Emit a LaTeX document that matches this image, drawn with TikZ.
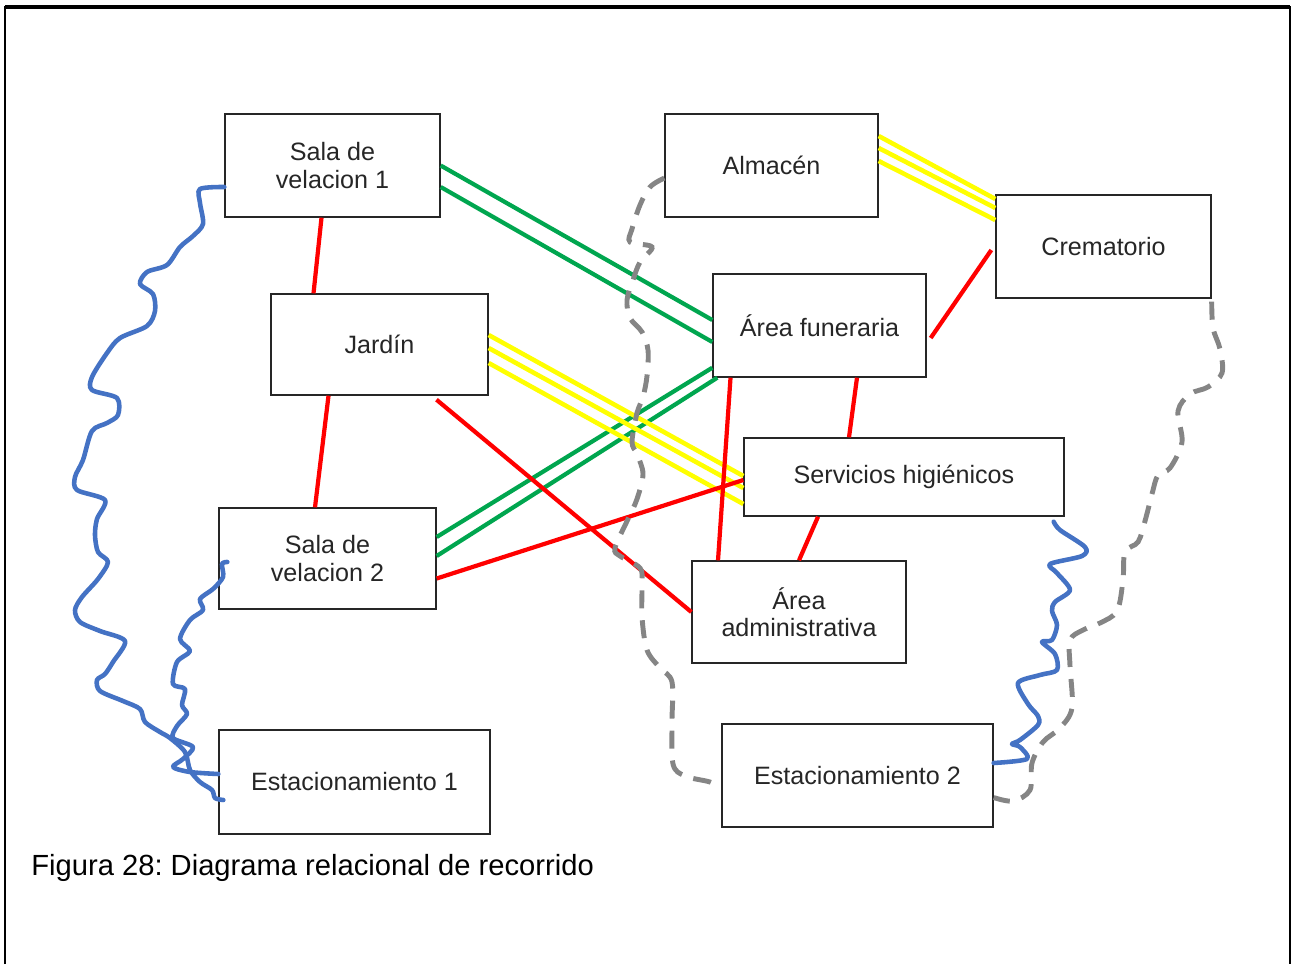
\documentclass[tikz,border=0pt]{standalone}
\usepackage{fontspec}
\setmainfont{Liberation Sans}
\frenchspacing

\definecolor{relred}{HTML}{FF0000}
\definecolor{relgreen}{HTML}{00A64F}
\definecolor{relyellow}{HTML}{FFFF00}
\definecolor{relblue}{HTML}{4472C4}
\definecolor{relgray}{HTML}{858585}

\tikzset{
    area/.style={draw=black!85, line width=0.8pt, rectangle, align=center, minimum height=2.06cm, text=black!85, font=\fontsize{14.3}{15.5}\selectfont},
    redlink/.style={draw=relred, line width=2.4pt},
    greenlink/.style={draw=relgreen, line width=2.4pt},
    yellowlink/.style={draw=relyellow, line width=2.6pt},
    bluewalk/.style={draw=relblue, line width=2.6pt, line cap=round, line join=round},
    graywalk/.style={draw=relgray, line width=2.8pt, dash pattern=on 0.36cm off 0.24cm},
}

\begin{document}
\begin{tikzpicture}[x=0.02cm, y=-0.02cm]
    \useasboundingbox (0, 0) rectangle (1295, 964);
    \draw [line width=1pt] (5, 964) -- (5, 7) -- (1290, 7) -- (1290, 964);
    \draw [line width=2pt] (5, 7) -- (1290, 7);

    \node (sala1) [area, minimum width=4.3cm] at (332.5, 165.5) {Sala de\\velacion 1};
    \node (almacen) [area, minimum width=4.26cm] at (771.5, 165.5) {Almacén};
    \node (crema) [area, minimum width=4.3cm] at (1103.5, 246.5) {Crematorio};
    \node (jardin) [area, minimum width=4.34cm, minimum height=2.02cm] at (379.5, 344.5) {Jardín};
    \node (funer) [area, minimum width=4.26cm] at (819.5, 325.5) {Área funeraria};
    \node (serv) [area, minimum width=6.4cm, minimum height=1.56cm] at (904, 477) {Servicios higiénicos};
    \node (sala2) [area, minimum width=4.34cm, minimum height=2.02cm] at (327.5, 558.5) {Sala de\\velacion 2};
    \node (admin) [area, minimum width=4.28cm, minimum height=2.04cm] at (799, 612) {Área\\administrativa};
    \node (est1) [area, minimum width=5.42cm, minimum height=2.08cm] at (354.5, 782) {Estacionamiento 1};
    \node (est2) [area, minimum width=5.42cm] at (857.5, 775.5) {Estacionamiento 2};
    \node (caption) [anchor=west, inner sep=0pt, font=\fontsize{16.6}{20}\selectfont] at (31, 868) {Figura 28: Diagrama relacional de recorrido};

    \foreach \a/\b in {0/0.11, -0.43/-0.33}
        \draw [greenlink] ([yshift=\a cm]sala1.east) -- ([yshift=\b cm]funer.west);
    \draw [greenlink] ([yshift=0.43cm]sala2.east) -- ([yshift=0.2cm]funer.south west);
    \draw [greenlink] ([yshift=0.05cm]sala2.east) -- ([xshift=0.1cm]funer.south west);

    \foreach \a/\b in {0.19/0.02, -0.07/-0.22, -0.37/-0.54}
        \draw [yellowlink] ([yshift=\a cm]jardin.east) -- ([yshift=\b cm]serv.west);
    \foreach \a/\b in {0.59/0.95, 0.35/0.77, 0.09/0.53}
        \draw [yellowlink] ([yshift=\a cm]almacen.east) -- ([yshift=\b cm]crema.west);

    \draw [redlink] ([xshift=-0.22cm]sala1.south) -- ([xshift=-1.32cm]jardin.north);
    \draw [redlink] ([xshift=-1.02cm]jardin.south) -- ([xshift=-0.25cm]sala2.north);
    \draw [redlink] ([xshift=1.14cm, yshift=-0.08cm]jardin.south) -- (admin.west);
    \draw [redlink] ([yshift=-0.4cm]sala2.east) -- ([yshift=-0.06cm]serv.west);
    \draw [redlink] ([xshift=-1.78cm]funer.south) -- ([xshift=-1.62cm]admin.north);
    \draw [redlink] ([xshift=0.75cm]funer.south) -- ([xshift=-1.1cm]serv.north);
    \draw [redlink] ([xshift=-1.72cm]serv.south) -- (admin.north);
    \draw [redlink] ([xshift=0.08cm, yshift=-0.25cm]funer.east) -- ([xshift=-0.08cm, yshift=-0.07cm]crema.west);

    \draw [graywalk] plot [smooth, tension=0.55] coordinates {([yshift=-0.25cm]almacen.west) (650, 187) (640, 205) (632, 229) (630, 242) (652, 247) (640, 262) (633, 280) (627, 300) (630, 318) (642, 332) (648, 350) (647, 376) (643, 397) (637, 413) (632, 442) (637, 454) (643, 474) (637, 499) (628, 519) (615, 548) (620, 556) (640, 568) (642, 584) (642, 617) (647, 650) (660, 668) (672, 682) (672, 723) (673, 764) (685, 776) (710, 782) ([yshift=-0.25cm]est2.west)};
    \draw [graywalk] plot [smooth, tension=0.55] coordinates {([yshift=-0.06cm]crema.south east) (1213, 328) (1220, 349) (1222, 373) (1208, 387) (1190, 394) (1178, 411) (1182, 442) (1170, 468) (1158, 475) (1152, 494) (1145, 521) (1138, 542) (1125, 552) (1123, 580) (1117, 611) (1100, 623) (1083, 630) (1070, 640) (1070, 666) (1072, 708) (1060, 728) (1043, 742) (1032, 763) (1030, 790) (1013, 801) ([yshift=-0.44cm]est2.east)};

    \draw [bluewalk] plot [smooth, tension=0.5] coordinates {([yshift=-0.43cm]sala1.west) (200, 189) (200, 203) (203, 224) (193, 236) (180, 247) (167, 265) (147, 272) (140, 284) (153, 294) (155, 311) (147, 326) (120, 338) (107, 353) (92, 377) (92, 390) (117, 398) (118, 415) (107, 423) (92, 431) (83, 460) (75, 477) (77, 490) (105, 500) (97, 519) (95, 535) (98, 552) (108, 562) (98, 579) (82, 597) (75, 610) (80, 622) (100, 631) (125, 641) (113, 662) (105, 674) (97, 680) (100, 691) (123, 701) (140, 709) (145, 722) (160, 732) (170, 738) (185, 752) (190, 770) (200, 782) (212, 790) (215, 798) ([xshift=0.1cm, yshift=-0.36cm]est1.west)};
    \draw [bluewalk] plot [smooth, tension=0.5] coordinates {([xshift=0.18cm, yshift=-0.07cm]sala2.west) (222, 564) (223, 577) (213, 589) (200, 599) (203, 610) (190, 620) (180, 639) (190, 651) (177, 662) (173, 684) (185, 689) (182, 705) (187, 714) (177, 726) (173, 738) (193, 747) (183, 759) (173, 767) (190, 772) ([yshift=0.16cm]est1.west)};
    \draw [bluewalk] plot [smooth, tension=0.5] coordinates {([xshift=-0.22cm, yshift=-0.1cm]serv.south east) (1060, 530) (1085, 547) (1082, 556) (1050, 564) (1057, 573) (1070, 590) (1055, 602) (1052, 611) (1057, 625) (1052, 640) (1042, 642) (1055, 654) (1057, 670) (1040, 675) (1018, 683) (1028, 704) (1038, 716) (1038, 725) (1020, 740) (1012, 744) (1020, 747) (1027, 759) ([yshift=0.25cm]est2.east)};
\end{tikzpicture}
\end{document}
